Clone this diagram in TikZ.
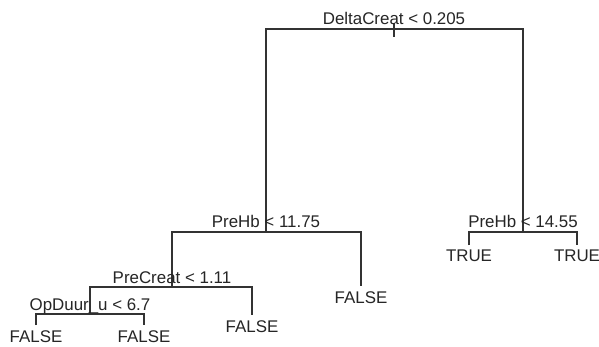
\documentclass[tikz,border=0pt]{standalone}
\usepackage{fontspec}
\setmainfont{Liberation Sans}
\begin{document}
\begin{tikzpicture}[x=1pt,y=-1pt,
  branch/.style={draw=black!80,line width=1.2pt},
  splitlabel/.style={anchor=base,inner sep=0pt,yshift=4pt,text=black!85,font=\fontsize{16.9}{20}\selectfont},
  leaflabel/.style={anchor=north,inner sep=0pt,yshift=-5pt,text=black!85,font=\fontsize{16.9}{20}\selectfont}]
\useasboundingbox[fill=white] (0,0) rectangle (599,347);
% split points
\coordinate (n1) at (394,29);
\coordinate (n2) at (266,232);
\coordinate (n3) at (523,232);
\coordinate (n4) at (172,287);
\coordinate (n6) at (90,314);
% leaf ends
\coordinate (l5) at (361,286);
\coordinate (l7) at (252,315);
\coordinate (l8) at (36,325);
\coordinate (l9) at (144,325);
\coordinate (t1) at (469,245);
\coordinate (t2) at (577,245);
\coordinate (rt) at (394,23);
\coordinate (rb) at (394,37);
% branches
\draw[branch] (rt) -- (rb);
\draw[branch] (n2) |- (n1) -| (n3);
\draw[branch] (n4) |- (n2) -| (l5);
\draw[branch] (n6) |- (n4) -| (l7);
\draw[branch] (l8) |- (n6) -| (l9);
\draw[branch] (t1) |- (n3) -| (t2);
% split labels
\node[splitlabel] (s1) at (n1) {DeltaCreat < 0.205};
\node[splitlabel] (s2) at (n2) {PreHb < 11.75};
\node[splitlabel] (s3) at (n3) {PreHb < 14.55};
\node[splitlabel] (s4) at (n4) {PreCreat < 1.11};
\node[splitlabel] (s6) at (n6) {OpDuur\_u < 6.7};
% leaf labels
\node[leaflabel] (f5) at (l5) {FALSE};
\node[leaflabel] (f7) at (l7) {FALSE};
\node[leaflabel] (f8) at (l8) {FALSE};
\node[leaflabel] (f9) at (l9) {FALSE};
\node[leaflabel] (tt1) at (t1) {TRUE};
\node[leaflabel] (tt2) at (t2) {TRUE};
\end{tikzpicture}
\end{document}
